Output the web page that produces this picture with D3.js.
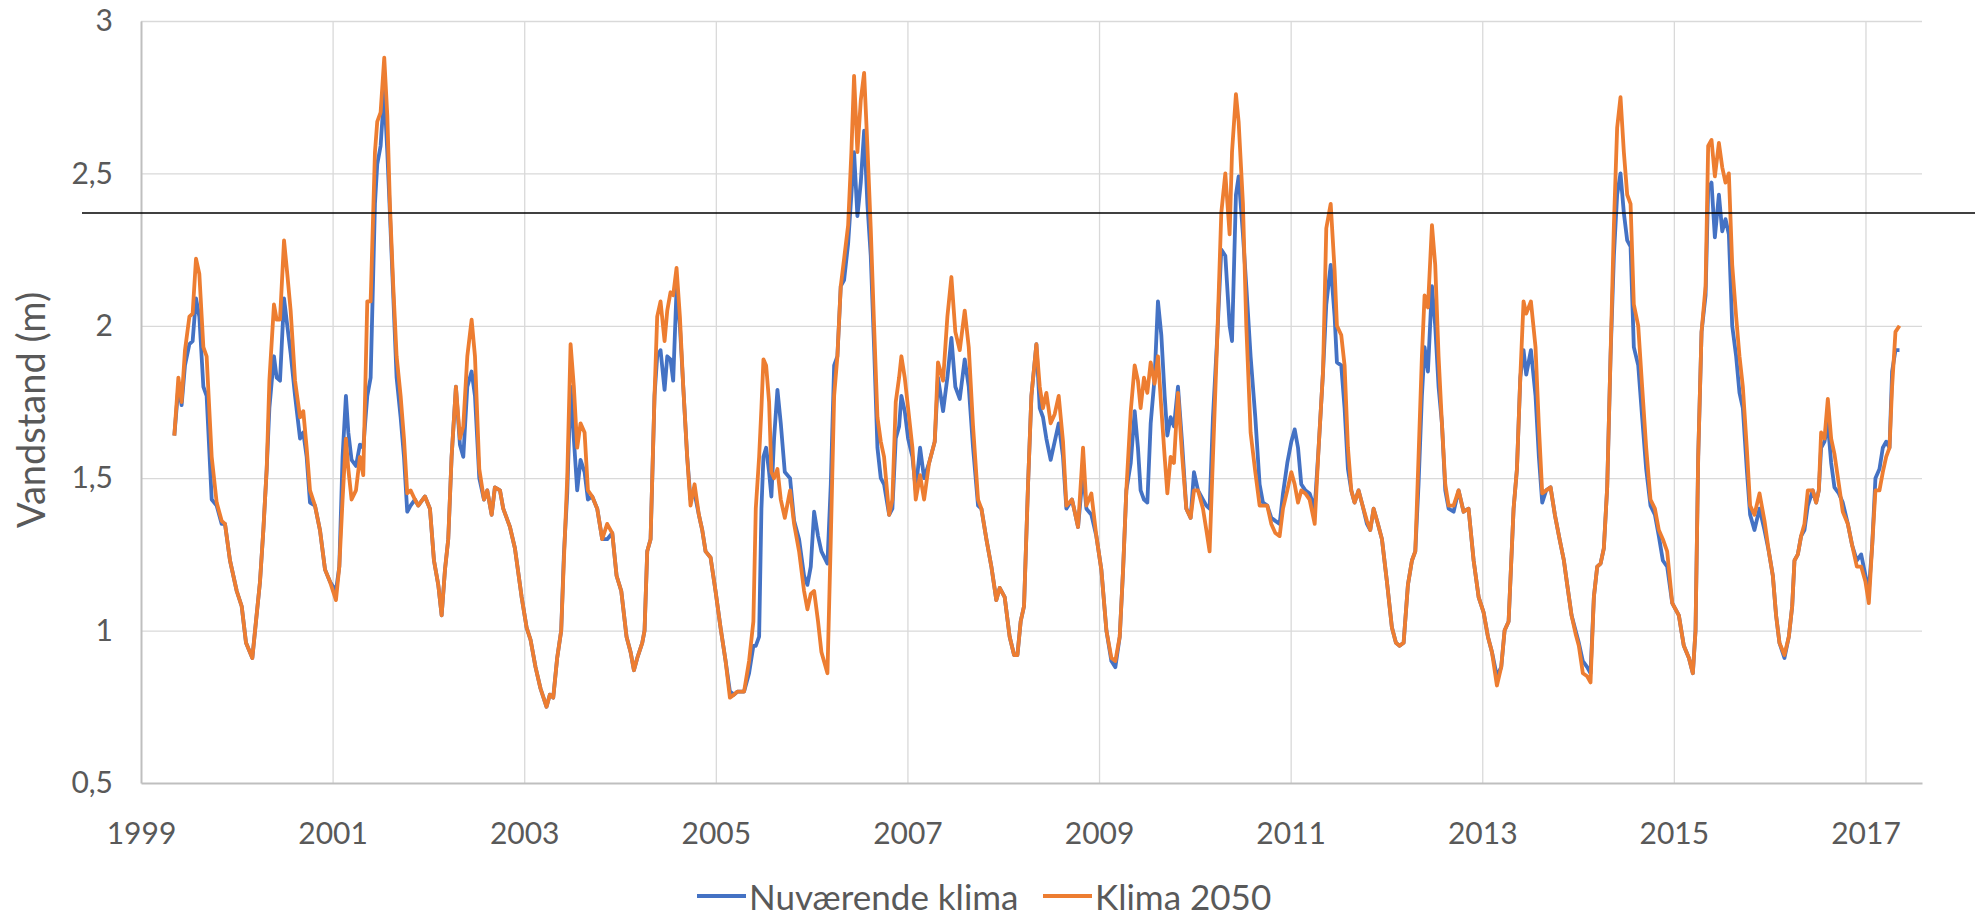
<!DOCTYPE html>
<html>
<head>
<meta charset="utf-8">
<script src="https://cdn.jsdelivr.net/npm/d3@7"></script>
<style>
  body { margin: 0; background: #fff; }
  text { font-family: Lato, "Open Sans", sans-serif; fill: #595959; }
</style>
</head>
<body>
<div id="chart"></div>
<script>
// Decimal years
const years = [
  1999.348, 1999.390, 1999.424, 1999.459, 1999.505, 1999.539, 1999.574, 1999.609, 1999.651, 1999.685,
  1999.738, 1999.790, 1999.842, 1999.877, 1999.929, 1999.999, 2000.051, 2000.096, 2000.162, 2000.200,
  2000.242, 2000.277, 2000.312, 2000.340, 2000.388, 2000.416, 2000.451, 2000.493, 2000.527, 2000.562,
  2000.608, 2000.660, 2000.694, 2000.729, 2000.764, 2000.816, 2000.868, 2000.921, 2000.973,
  2001.035, 2001.070, 2001.104, 2001.139, 2001.164, 2001.198, 2001.244, 2001.285, 2001.320, 2001.362,
  2001.397, 2001.442, 2001.466, 2001.501, 2001.539, 2001.571, 2001.598, 2001.633, 2001.668, 2001.710,
  2001.745, 2001.779, 2001.814, 2001.859, 2001.894, 2001.964, 2002.016, 2002.058, 2002.103, 2002.138,
  2002.173, 2002.207, 2002.242, 2002.287, 2002.329, 2002.364, 2002.406, 2002.451, 2002.486, 2002.531,
  2002.580, 2002.614, 2002.660, 2002.694, 2002.747, 2002.781, 2002.851, 2002.903, 2002.973, 2003.025,
  2003.066, 2003.118, 2003.170, 2003.233, 2003.268, 2003.303, 2003.344, 2003.386, 2003.414, 2003.449,
  2003.484, 2003.518, 2003.553, 2003.588, 2003.630, 2003.665, 2003.710, 2003.762, 2003.814, 2003.866,
  2003.919, 2003.964, 2004.013, 2004.068, 2004.110, 2004.145, 2004.180, 2004.232, 2004.256, 2004.284,
  2004.319, 2004.360, 2004.388, 2004.423, 2004.465, 2004.493, 2004.527, 2004.555, 2004.590, 2004.625,
  2004.660, 2004.701, 2004.736, 2004.778, 2004.823, 2004.858, 2004.893, 2004.945, 2004.997, 2005.049,
  2005.102, 2005.147, 2005.190, 2005.225, 2005.295, 2005.347, 2005.392, 2005.417, 2005.452, 2005.476,
  2005.497, 2005.525, 2005.556, 2005.580, 2005.608, 2005.643, 2005.678, 2005.720, 2005.775, 2005.817,
  2005.869, 2005.921, 2005.956, 2005.991, 2006.026, 2006.067, 2006.102, 2006.165, 2006.200, 2006.235,
  2006.269, 2006.304, 2006.339, 2006.381, 2006.415, 2006.443, 2006.478, 2006.513, 2006.548, 2006.582,
  2006.617, 2006.652, 2006.687, 2006.722, 2006.756, 2006.809, 2006.843, 2006.878, 2006.913, 2006.937,
  2006.972, 2007.007, 2007.052, 2007.087, 2007.132, 2007.174, 2007.226, 2007.285, 2007.319, 2007.372,
  2007.417, 2007.459, 2007.500, 2007.546, 2007.598, 2007.640, 2007.685, 2007.737, 2007.772, 2007.824,
  2007.876, 2007.928, 2007.963, 2008.015, 2008.067, 2008.113, 2008.148, 2008.182, 2008.217, 2008.259,
  2008.294, 2008.346, 2008.381, 2008.415, 2008.450, 2008.495, 2008.537, 2008.579, 2008.624, 2008.659,
  2008.718, 2008.781, 2008.833, 2008.868, 2008.920, 2008.972, 2009.024, 2009.077, 2009.129, 2009.170,
  2009.216, 2009.251, 2009.285, 2009.331, 2009.372, 2009.406, 2009.434, 2009.469, 2009.504, 2009.539,
  2009.580, 2009.615, 2009.650, 2009.685, 2009.713, 2009.747, 2009.782, 2009.824, 2009.866, 2009.911,
  2009.956, 2009.991, 2010.033, 2010.085, 2010.120, 2010.154, 2010.189, 2010.235, 2010.276, 2010.318,
  2010.363, 2010.388, 2010.429, 2010.457, 2010.502, 2010.537, 2010.582, 2010.631, 2010.676, 2010.711,
  2010.756, 2010.798, 2010.840, 2010.885, 2010.920, 2010.965, 2011.007, 2011.042, 2011.077, 2011.111,
  2011.153, 2011.198, 2011.251, 2011.292, 2011.338, 2011.372, 2011.418, 2011.459, 2011.483, 2011.528,
  2011.563, 2011.598, 2011.633, 2011.667, 2011.709, 2011.751, 2011.796, 2011.831, 2011.866, 2011.911,
  2011.953, 2012.005, 2012.057, 2012.099, 2012.137, 2012.179, 2012.224, 2012.266, 2012.301, 2012.335,
  2012.370, 2012.398, 2012.433, 2012.475, 2012.509, 2012.544, 2012.579, 2012.614, 2012.649, 2012.701,
  2012.753, 2012.805, 2012.857, 2012.910, 2012.962, 2013.014, 2013.059, 2013.101, 2013.153, 2013.198,
  2013.233, 2013.275, 2013.327, 2013.362, 2013.397, 2013.431, 2013.459, 2013.508, 2013.556, 2013.591,
  2013.626, 2013.667, 2013.713, 2013.758, 2013.807, 2013.852, 2013.887, 2013.932, 2013.974, 2014.008,
  2014.050, 2014.095, 2014.130, 2014.165, 2014.200, 2014.235, 2014.269, 2014.304, 2014.339, 2014.374,
  2014.408, 2014.443, 2014.478, 2014.513, 2014.548, 2014.582, 2014.628, 2014.669, 2014.711, 2014.756,
  2014.802, 2014.843, 2014.885, 2014.930, 2014.983, 2015.052, 2015.104, 2015.157, 2015.198, 2015.226,
  2015.254, 2015.289, 2015.331, 2015.358, 2015.393, 2015.428, 2015.470, 2015.505, 2015.539, 2015.574,
  2015.609, 2015.650, 2015.685, 2015.720, 2015.761, 2015.796, 2015.841, 2015.894, 2015.946, 2015.991,
  2016.033, 2016.067, 2016.102, 2016.154, 2016.200, 2016.235, 2016.259, 2016.294, 2016.328, 2016.363,
  2016.398, 2016.450, 2016.485, 2016.513, 2016.537, 2016.572, 2016.607, 2016.642, 2016.676, 2016.722,
  2016.763, 2016.816, 2016.861, 2016.910, 2016.955, 2017.000, 2017.035, 2017.070, 2017.104, 2017.146,
  2017.181, 2017.216, 2017.251, 2017.278, 2017.313, 2017.355
];

// Vandstand (m), Nuværende klima
const nuvaerende = [
  1.64, 1.80, 1.74, 1.87, 1.94, 1.95, 2.09, 2.03, 1.80, 1.77,
  1.43, 1.41, 1.35, 1.35, 1.23, 1.13, 1.08, 0.96, 0.91, 1.03,
  1.16, 1.33, 1.53, 1.73, 1.90, 1.83, 1.82, 2.09, 2.00, 1.91,
  1.77, 1.63, 1.65, 1.57, 1.42, 1.41, 1.33, 1.20, 1.16,
  1.13, 1.21, 1.57, 1.77, 1.65, 1.56, 1.54, 1.61, 1.60, 1.77,
  1.83, 2.40, 2.53, 2.59, 2.77, 2.57, 2.37, 2.10, 1.83, 1.70,
  1.57, 1.39, 1.41, 1.43, 1.41, 1.44, 1.40, 1.23, 1.15, 1.05,
  1.20, 1.30, 1.57, 1.80, 1.61, 1.57, 1.80, 1.85, 1.77, 1.50,
  1.43, 1.46, 1.38, 1.47, 1.46, 1.40, 1.34, 1.27, 1.11, 1.01,
  0.97, 0.88, 0.81, 0.75, 0.79, 0.78, 0.91, 1.00, 1.25, 1.45,
  1.80, 1.63, 1.46, 1.56, 1.52, 1.43, 1.44, 1.40, 1.30, 1.30,
  1.32, 1.18, 1.13, 0.98, 0.93, 0.87, 0.91, 0.96, 1.00, 1.26,
  1.30, 1.77, 1.90, 1.92, 1.79, 1.90, 1.89, 1.82, 2.12, 2.00,
  1.80, 1.57, 1.43, 1.45, 1.38, 1.33, 1.26, 1.24, 1.13, 1.01,
  0.90, 0.80, 0.79, 0.80, 0.80, 0.86, 0.95, 0.95, 0.98, 1.40,
  1.57, 1.60, 1.52, 1.44, 1.63, 1.79, 1.68, 1.52, 1.50, 1.36,
  1.30, 1.18, 1.15, 1.21, 1.39, 1.31, 1.26, 1.22, 1.48, 1.87,
  1.90, 2.13, 2.15, 2.27, 2.43, 2.57, 2.36, 2.47, 2.64, 2.40,
  2.23, 1.93, 1.60, 1.50, 1.48, 1.38, 1.40, 1.63, 1.67, 1.77,
  1.72, 1.63, 1.57, 1.46, 1.60, 1.50, 1.55, 1.62, 1.83, 1.72,
  1.83, 1.96, 1.80, 1.76, 1.89, 1.80, 1.60, 1.41, 1.40, 1.30,
  1.21, 1.10, 1.14, 1.11, 0.98, 0.92, 0.92, 1.03, 1.08, 1.48,
  1.77, 1.94, 1.73, 1.70, 1.63, 1.56, 1.62, 1.68, 1.57, 1.40,
  1.43, 1.34, 1.52, 1.40, 1.38, 1.31, 1.20, 1.00, 0.90, 0.88,
  0.98, 1.20, 1.46, 1.55, 1.72, 1.60, 1.46, 1.43, 1.42, 1.68,
  1.83, 2.08, 1.97, 1.77, 1.64, 1.70, 1.67, 1.80, 1.62, 1.40,
  1.37, 1.52, 1.46, 1.43, 1.41, 1.40, 1.70, 1.97, 2.25, 2.23,
  2.00, 1.95, 2.43, 2.49, 2.30, 2.13, 1.90, 1.70, 1.48, 1.42,
  1.41, 1.37, 1.36, 1.35, 1.45, 1.55, 1.62, 1.66, 1.60, 1.48,
  1.46, 1.45, 1.40, 1.60, 1.85, 2.07, 2.20, 2.03, 1.88, 1.87,
  1.73, 1.53, 1.46, 1.42, 1.46, 1.41, 1.35, 1.33, 1.40, 1.35,
  1.30, 1.16, 1.01, 0.96, 0.95, 0.96, 1.15, 1.23, 1.26, 1.48,
  1.77, 1.93, 1.85, 2.13, 2.00, 1.80, 1.68, 1.46, 1.40, 1.39,
  1.46, 1.39, 1.40, 1.23, 1.11, 1.06, 0.98, 0.93, 0.85, 0.88,
  1.00, 1.03, 1.40, 1.53, 1.83, 1.92, 1.84, 1.92, 1.77, 1.57,
  1.42, 1.46, 1.47, 1.38, 1.30, 1.23, 1.15, 1.05, 1.00, 0.96,
  0.90, 0.88, 0.86, 1.11, 1.21, 1.22, 1.27, 1.47, 1.90, 2.23,
  2.43, 2.50, 2.37, 2.28, 2.26, 1.93, 1.87, 1.70, 1.53, 1.41,
  1.38, 1.31, 1.23, 1.21, 1.09, 1.05, 0.95, 0.91, 0.86, 1.00,
  1.57, 1.98, 2.10, 2.45, 2.47, 2.29, 2.43, 2.31, 2.35, 2.30,
  2.00, 1.90, 1.78, 1.73, 1.53, 1.38, 1.33, 1.40, 1.33, 1.26,
  1.18, 1.05, 0.96, 0.91, 0.98, 1.08, 1.23, 1.25, 1.31, 1.33,
  1.41, 1.46, 1.42, 1.46, 1.60, 1.62, 1.68, 1.55, 1.47, 1.45,
  1.42, 1.35, 1.28, 1.23, 1.25, 1.18, 1.13, 1.28, 1.50, 1.53,
  1.60, 1.62, 1.60, 1.85, 1.92, 1.92
];

// Vandstand (m), Klima 2050
const klima2050 = [
  1.64, 1.83, 1.75, 1.92, 2.03, 2.04, 2.22, 2.17, 1.93, 1.90,
  1.57, 1.42, 1.36, 1.35, 1.23, 1.13, 1.08, 0.96, 0.91, 1.03,
  1.16, 1.33, 1.53, 1.82, 2.07, 2.02, 2.02, 2.28, 2.17, 2.05,
  1.82, 1.70, 1.72, 1.60, 1.46, 1.41, 1.33, 1.20, 1.16,
  1.10, 1.21, 1.43, 1.63, 1.53, 1.43, 1.46, 1.57, 1.51, 2.08,
  2.08, 2.57, 2.67, 2.70, 2.88, 2.69, 2.40, 2.13, 1.90, 1.77,
  1.63, 1.45, 1.46, 1.43, 1.41, 1.44, 1.40, 1.23, 1.15, 1.05,
  1.20, 1.30, 1.57, 1.80, 1.63, 1.67, 1.90, 2.02, 1.90, 1.53,
  1.43, 1.46, 1.38, 1.47, 1.46, 1.40, 1.34, 1.27, 1.11, 1.01,
  0.97, 0.88, 0.81, 0.75, 0.79, 0.78, 0.91, 1.00, 1.23, 1.50,
  1.94, 1.80, 1.60, 1.68, 1.65, 1.46, 1.44, 1.40, 1.30, 1.35,
  1.32, 1.18, 1.13, 0.98, 0.93, 0.87, 0.91, 0.96, 1.00, 1.26,
  1.30, 1.77, 2.03, 2.08, 1.95, 2.05, 2.11, 2.10, 2.19, 2.03,
  1.80, 1.57, 1.41, 1.48, 1.38, 1.33, 1.26, 1.24, 1.13, 1.01,
  0.90, 0.78, 0.79, 0.80, 0.80, 0.90, 1.03, 1.40, 1.57, 1.73,
  1.89, 1.87, 1.75, 1.52, 1.50, 1.53, 1.43, 1.37, 1.46, 1.35,
  1.26, 1.13, 1.07, 1.12, 1.13, 1.03, 0.93, 0.86, 1.30, 1.77,
  1.90, 2.13, 2.22, 2.33, 2.57, 2.82, 2.57, 2.74, 2.83, 2.59,
  2.32, 2.00, 1.70, 1.62, 1.57, 1.38, 1.43, 1.75, 1.83, 1.90,
  1.83, 1.73, 1.60, 1.43, 1.51, 1.43, 1.55, 1.62, 1.88, 1.82,
  2.03, 2.16, 1.98, 1.92, 2.05, 1.93, 1.67, 1.43, 1.40, 1.30,
  1.21, 1.10, 1.14, 1.11, 0.98, 0.92, 0.92, 1.03, 1.08, 1.48,
  1.77, 1.94, 1.80, 1.73, 1.78, 1.68, 1.71, 1.77, 1.62, 1.41,
  1.43, 1.34, 1.60, 1.41, 1.45, 1.31, 1.20, 1.00, 0.91, 0.90,
  0.98, 1.20, 1.46, 1.72, 1.87, 1.82, 1.73, 1.83, 1.78, 1.88,
  1.81, 1.90, 1.73, 1.57, 1.45, 1.57, 1.55, 1.78, 1.58, 1.40,
  1.37, 1.46, 1.46, 1.40, 1.33, 1.26, 1.57, 1.97, 2.37, 2.50,
  2.30, 2.57, 2.76, 2.67, 2.40, 2.00, 1.65, 1.52, 1.41, 1.41,
  1.41, 1.35, 1.32, 1.31, 1.40, 1.46, 1.52, 1.48, 1.42, 1.46,
  1.45, 1.43, 1.35, 1.60, 1.85, 2.32, 2.40, 2.18, 2.00, 1.97,
  1.87, 1.60, 1.46, 1.42, 1.46, 1.41, 1.36, 1.33, 1.40, 1.35,
  1.30, 1.16, 1.01, 0.96, 0.95, 0.96, 1.15, 1.23, 1.26, 1.57,
  1.90, 2.10, 2.06, 2.33, 2.20, 1.90, 1.68, 1.48, 1.41, 1.41,
  1.46, 1.39, 1.40, 1.23, 1.11, 1.06, 0.98, 0.93, 0.82, 0.88,
  1.00, 1.03, 1.40, 1.53, 1.83, 2.08, 2.04, 2.08, 1.93, 1.67,
  1.45, 1.46, 1.47, 1.38, 1.30, 1.23, 1.15, 1.05, 0.99, 0.95,
  0.86, 0.85, 0.83, 1.11, 1.21, 1.22, 1.27, 1.47, 1.90, 2.33,
  2.65, 2.75, 2.57, 2.43, 2.40, 2.07, 2.00, 1.80, 1.60, 1.43,
  1.40, 1.33, 1.30, 1.26, 1.09, 1.05, 0.95, 0.91, 0.86, 1.00,
  1.57, 1.98, 2.13, 2.59, 2.61, 2.49, 2.60, 2.52, 2.47, 2.50,
  2.20, 2.03, 1.90, 1.80, 1.60, 1.41, 1.38, 1.45, 1.36, 1.26,
  1.18, 1.05, 0.96, 0.92, 0.98, 1.08, 1.23, 1.25, 1.31, 1.35,
  1.46, 1.46, 1.42, 1.46, 1.65, 1.63, 1.76, 1.63, 1.58, 1.48,
  1.39, 1.35, 1.28, 1.21, 1.21, 1.16, 1.09, 1.28, 1.46, 1.46,
  1.52, 1.57, 1.60, 1.80, 1.98, 2.00
];

const seriesNames = ["Nuværende klima", "Klima 2050"];
const xTicks = [1999, 2001, 2003, 2005, 2007, 2009, 2011, 2013, 2015, 2017];
const yTicks = [0.5, 1, 1.5, 2, 2.5, 3];
const threshold = 2.37;

const W = 1975, H = 916;
const margin = { top: 21, right: 53, bottom: 133, left: 141 };
const width = W - margin.left - margin.right,
      height = H - margin.top - margin.bottom;

const svg = d3.select("#chart").append("svg")
    .attr("width", W)
    .attr("height", H);

const g = svg.append("g")
    .attr("transform", `translate(${margin.left},${margin.top})`);

const x = d3.scaleLinear().domain([1999, 2017.59]).range([0, width]);
const y = d3.scaleLinear().domain([0.5, 3]).range([height, 0]);

const fmt = d => String(d).replace(".", ",");

// Gridlines
g.append("g")
    .attr("class", "grid")
    .call(d3.axisLeft(y).tickValues(yTicks.slice(1)).tickSize(-width).tickFormat(""))
    .call(s => s.select(".domain").remove())
    .selectAll("line").attr("stroke", "#d9d9d9").attr("stroke-width", 1.3);

g.append("g")
    .attr("class", "grid")
    .attr("transform", `translate(0,${height})`)
    .call(d3.axisBottom(x).tickValues(xTicks.slice(1)).tickSize(height).tickFormat(""))
    .call(s => s.select(".domain").remove())
    .selectAll("line")
    .attr("transform", `translate(0,${-height})`)
    .attr("stroke", "#d9d9d9").attr("stroke-width", 1.3);

// Axes
const xAxis = g.append("g")
    .attr("transform", `translate(0,${height})`)
    .call(d3.axisBottom(x).tickValues(xTicks).tickSize(0).tickPadding(40).tickFormat(d3.format("d")));
xAxis.select(".domain").attr("stroke", "#bfbfbf").attr("stroke-width", 2);
xAxis.selectAll("text").style("font-size", "30px").attr("fill", "#595959");

const yAxis = g.append("g")
    .call(d3.axisLeft(y).tickValues(yTicks).tickSize(0).tickPadding(28).tickFormat(fmt));
yAxis.select(".domain").attr("stroke", "#bfbfbf").attr("stroke-width", 2);
yAxis.selectAll("text").style("font-size", "30px").attr("fill", "#595959");

// Y axis title
svg.append("text")
    .attr("transform", `translate(30,${margin.top + height / 2 + 8}) rotate(-90)`)
    .attr("text-anchor", "middle")
    .attr("dominant-baseline", "central")
    .style("font-size", "38px")
    .text("Vandstand (m)");

// Lines
const line = d3.line()
    .x(d => x(d[0]))
    .y(d => y(d[1]));

const colors = ["#4472C4", "#ED7D31"];
[nuvaerende, klima2050].forEach((vals, i) => {
    g.append("path")
        .datum(years.map((yr, j) => [yr, vals[j]]))
        .attr("fill", "none")
        .attr("stroke", colors[i])
        .attr("stroke-width", 3.8)
        .attr("stroke-linejoin", "round")
        .attr("d", line);
});

// Threshold line
svg.append("line")
    .attr("x1", 82)
    .attr("x2", W)
    .attr("y1", margin.top + y(threshold))
    .attr("y2", margin.top + y(threshold))
    .attr("stroke", "#000")
    .attr("stroke-width", 1.5);

// Legend
const legendX = [697, 1043];
seriesNames.forEach((name, i) => {
    svg.append("line")
        .attr("x1", legendX[i]).attr("x2", legendX[i] + 49)
        .attr("y1", 896).attr("y2", 896)
        .attr("stroke", colors[i])
        .attr("stroke-width", 3.8);
    svg.append("text")
        .attr("x", legendX[i] + 52)
        .attr("y", 896)
        .attr("dominant-baseline", "central")
        .style("font-size", "35px")
        .text(name);
});
</script>
</body>
</html>
